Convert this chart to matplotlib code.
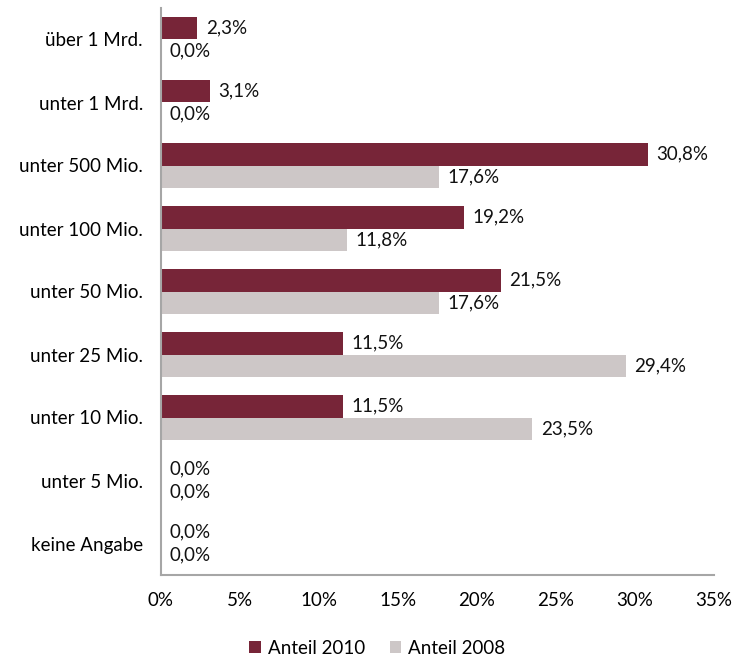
import matplotlib.pyplot as plt
import numpy as np

categories = ['über 1 Mrd.', 'unter 1 Mrd.', 'unter 500 Mio.', 'unter 100 Mio.',
              'unter 50 Mio.', 'unter 25 Mio.', 'unter 10 Mio.', 'unter 5 Mio.',
              'keine Angabe']
anteil_2010 = [2.3, 3.1, 30.8, 19.2, 21.5, 11.5, 11.5, 0.0, 0.0]
anteil_2008 = [0.0, 0.0, 17.6, 11.8, 17.6, 29.4, 23.5, 0.0, 0.0]
xticks = [0, 5, 10, 15, 20, 25, 30, 35]

col_2010 = '#772538'
col_2008 = '#cdc7c7'
axis_col = '#a6a6a6'
fs = 13.5

plt.rcParams['font.family'] = ['Lato', 'DejaVu Sans']

fig = plt.figure(figsize=(7.4, 6.59), dpi=100)
ax = fig.add_axes([161 / 740, 1 - 575 / 659, (714 - 161) / 740, (575 - 8) / 659])

y = np.arange(len(categories))
h = 0.355
ax.barh(y - h / 2, anteil_2010, height=h, color=col_2010, label='Anteil 2010')
ax.barh(y + h / 2, anteil_2008, height=h, color=col_2008, label='Anteil 2008')

def fmt(v):
    return f'{v:.1f}%'.replace('.', ',')

# value labels just right of each bar end
for yi, v in zip(y, anteil_2010):
    ax.annotate(fmt(v), (v, yi - h / 2), xytext=(6, 0), textcoords='offset points',
                va='center', ha='left', fontsize=fs, color='#111111')
for yi, v in zip(y, anteil_2008):
    ax.annotate(fmt(v), (v, yi + h / 2), xytext=(6, 0), textcoords='offset points',
                va='center', ha='left', fontsize=fs, color='#111111')

ax.set_ylim(len(categories) - 0.5, -0.5)
ax.set_xlim(0, 35)
ax.set_yticks(y)
ax.set_yticklabels(categories, fontsize=fs)
ax.set_xticks(xticks)
ax.set_xticklabels([f'{t}%' for t in xticks], fontsize=fs)
ax.tick_params(axis='both', length=0)
ax.tick_params(axis='x', pad=12)
ax.tick_params(axis='y', pad=13)

for s in ['top', 'right']:
    ax.spines[s].set_visible(False)
for s in ['left', 'bottom']:
    ax.spines[s].set_color(axis_col)
    ax.spines[s].set_linewidth(1.5)

fig.legend(loc='lower center', bbox_to_anchor=(0.51, -0.022), ncol=2, frameon=False,
           fontsize=fs, handlelength=0.6, handleheight=0.6, handletextpad=0.4,
           columnspacing=1.3)

fig.savefig('out.png', dpi=100, facecolor='white')
